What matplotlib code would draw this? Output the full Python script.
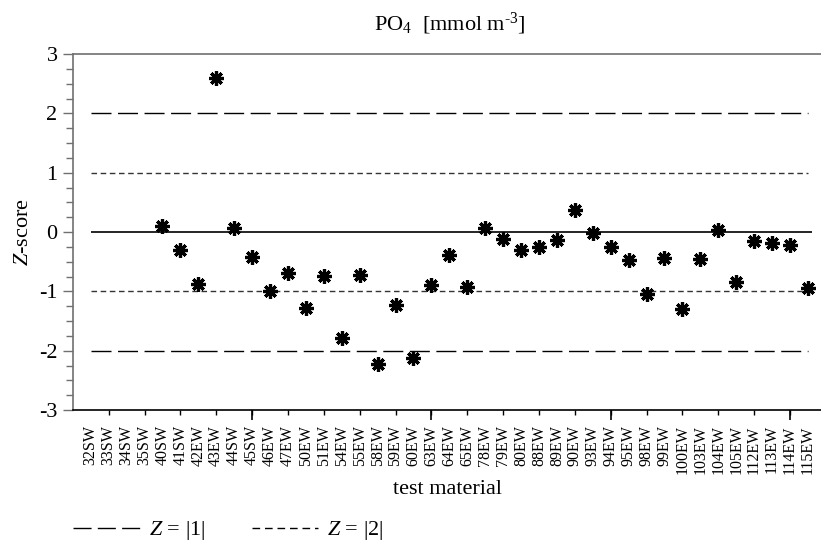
import numpy as np
import matplotlib
matplotlib.use("Agg")
import matplotlib.pyplot as plt
from matplotlib.lines import Line2D

plt.rcParams['font.family'] = ['Liberation Serif', 'DejaVu Serif']
plt.rcParams['mathtext.fontset'] = 'custom'
plt.rcParams['mathtext.rm'] = 'Liberation Serif'
plt.rcParams['mathtext.it'] = 'Liberation Serif:italic'
plt.rcParams['axes.unicode_minus'] = False

categories = ['32SW', '33SW', '34SW', '35SW', '40SW', '41SW', '42EW', '43EW', '44SW',
              '45SW', '46EW', '47EW', '50EW', '51EW', '54EW', '55EW', '58EW', '59EW',
              '60EW', '63EW', '64EW', '65EW', '78EW', '79EW', '80EW', '88EW', '89EW',
              '90EW', '93EW', '94EW', '95EW', '98EW', '99EW', '100EW', '103EW', '104EW',
              '105EW', '112EW', '113EW', '114EW', '115EW']
zscores = [np.nan, np.nan, np.nan, np.nan, 0.10, -0.30, -0.87, 2.59, 0.06,
           -0.42, -0.99, -0.69, -1.28, -0.74, -1.79, -0.73, -2.22, -1.23,
           -2.13, -0.90, -0.38, -0.93, 0.07, -0.12, -0.30, -0.25, -0.14,
           0.37, -0.01, -0.26, -0.48, -1.04, -0.43, -1.30, -0.45, 0.03,
           -0.85, -0.16, -0.19, -0.22, -0.95]
limits_long = [2, -2]
limits_short = [1, -1]

W, H = 821, 554
fig = plt.figure(figsize=(W / 100, H / 100), dpi=100)
ax_left = 72.8 / W
ax_bottom = (H - 410) / H
ax_top = (H - 54) / H
ax = fig.add_axes([ax_left, ax_bottom, 1 - ax_left, ax_top - ax_bottom])

x = np.arange(1, len(categories) + 1)
step_px = 17.93
ax.set_xlim(0, (W - 72.8) / step_px)
ax.set_ylim(-3, 3)

long_dash = (0, (14.4, 4.7))
short_dash = (0, (4.0, 2.6))
for v in limits_long:
    ax.hlines(v, x[0], x[-1], colors='black', linestyles=long_dash, lw=1.0)
for v in limits_short:
    ax.hlines(v, x[0], x[-1], colors='#333333', linestyles=short_dash, lw=1.0)
ax.hlines(0, x[0], x[-1] + 0.2, colors='black', lw=1.2)

ax.plot(x, zscores, linestyle='none', marker=(8, 2, 0), ms=10.5, mew=2.3,
        color='black', zorder=5)

# spines
ax.spines['right'].set_visible(False)
ax.spines['top'].set_color('#707070')
ax.spines['left'].set_color('#707070')
ax.spines['bottom'].set_color('black')
for s in ['top', 'left', 'bottom']:
    ax.spines[s].set_linewidth(1.2)

# y ticks
ax.set_yticks(np.arange(-3, 4, 1))
ax.set_yticks(np.arange(-3, 3.01, 0.25), minor=True)
ax.tick_params(axis='y', which='major', length=7, width=1, color='#707070',
               labelsize=16, pad=4)
ax.tick_params(axis='y', which='minor', length=5, width=1, color='#707070')

# x ticks: labels at every category (no marks), marks at even positions
ax.set_xticks(x)
ax.set_xticklabels(categories, rotation=90)
ax.tick_params(axis='x', which='major', length=0, labelsize=11.5, pad=11)
ax.tick_params(axis='x', which='minor', bottom=False)

sec_short = ax.secondary_xaxis('bottom')
sec_short.set_xticks(np.arange(2, len(categories) + 1, 2))
sec_short.tick_params(axis='x', which='both', length=3.5, width=1, color='black',
                      labelbottom=False)
sec_short.tick_params(axis='x', which='minor', bottom=False)
sec_short.spines['bottom'].set_visible(False)

sec_long = ax.secondary_xaxis('bottom')
sec_long.set_xticks([10, 20, 30, 40])
sec_long.tick_params(axis='x', length=7, width=1.2, color='black', labelbottom=False)
sec_long.tick_params(axis='x', which='minor', bottom=False)
sec_long.spines['bottom'].set_visible(False)

ax.set_ylabel('$\\mathit{Z}$-score', fontsize=16, labelpad=4)

fig.text(450 / W, 1 - 24 / H, 'PO$_4$  [mmol m$^{\u20103}$]', ha='center', va='center',
         fontsize=16)
fig.text(447 / W, 1 - 490 / H, 'test material', ha='center', va='center', fontsize=16)

handles = [Line2D([], [], color='black', lw=1.0, linestyle=(0, (13, 4.5))),
           Line2D([], [], color='black', lw=1.0, linestyle=(0, (5.5, 3.5)))]
labels = ['$\\mathit{Z}$ = |1|', '$\\mathit{Z}$ = |2|']
fig.legend(handles, labels, loc='center left', bbox_to_anchor=(73 / W, 1 - 531 / H),
           ncol=2, frameon=False, fontsize=16, handlelength=3.0,
           handletextpad=0.4, columnspacing=2.1, borderpad=0, borderaxespad=0)

fig.savefig('out.png', dpi=100)
